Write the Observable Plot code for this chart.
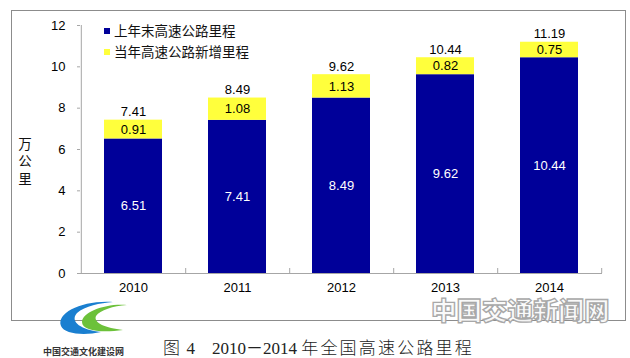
<!DOCTYPE html>
<html>
<head>
<meta charset="utf-8">
<script src="https://cdn.jsdelivr.net/npm/d3@7"></script>
<script src="https://cdn.jsdelivr.net/npm/@observablehq/plot@0.6"></script>
<style>
  html, body { margin: 0; padding: 0; background: #fff; }
  #wrap { position: relative; width: 630px; height: 358px; overflow: hidden; background: #fff; }
  #chart { position: absolute; left: 0; top: 0; }
  #box { position: absolute; left: 11px; top: 10px; width: 613px; height: 309px; border: 1px solid #8c8c8c; pointer-events: none; }
  .leg { position: absolute; left: 104px; font-family: "Noto Sans CJK SC", sans-serif; font-size: 13.5px; color: #111; line-height: 16px; white-space: nowrap; }
  .leg span.sw { display: inline-block; width: 6px; height: 6px; margin-right: 4px; vertical-align: 2px; }
  #ytitle { position: absolute; left: 17px; top: 137px; font-family: "Noto Sans CJK SC", sans-serif; font-size: 13.5px; line-height: 16px; color: #111; writing-mode: vertical-rl; text-orientation: upright; letter-spacing: 4px; white-space: nowrap; }
  #caption { position: absolute; left: 163px; top: 337px; font-family: "Liberation Serif", "Noto Sans CJK SC", serif; font-size: 17px; line-height: 20px; color: #222; white-space: nowrap; }
  #caption .cjk { font-family: "Noto Sans CJK SC", sans-serif; font-weight: 300; letter-spacing: 2.2px; }
  #wm { position: absolute; left: 431px; top: 296px; font-family: "Noto Sans CJK SC", sans-serif; font-weight: 900; font-size: 25.5px; line-height: 26px; color: rgba(250,250,250,0.95); -webkit-text-stroke: 1.3px #a8a8a8; white-space: nowrap; }
  #logo { position: absolute; left: 0; top: 0; }
  #logotext { position: absolute; left: 43px; top: 346px; font-family: "Noto Sans CJK SC", serif; font-weight: 700; font-size: 9px; line-height: 11px; color: #333; white-space: nowrap; }
</style>
</head>
<body>
<div id="wrap">
  <div id="chart"></div>
  <div id="box"></div>
  <div class="leg" id="leg0" style="top:22px"></div>
  <div class="leg" id="leg1" style="top:43px"></div>
  <div id="ytitle"></div>
  <div id="wm">中国交通新闻网</div>
  <svg id="logo" width="140" height="358">
    <path d="M113 302 C82 300 56 313 61 326 C64 334 84 336 101 332 C82 330 69 322 77 313 C85 306 100 303 113 302 Z" fill="#1a7fd0"/>
    <path d="M127 305 C106 303 82 312 82 322 C82 331 102 333 123 330 C106 328 93 323 96 316 C100 310 113 306 127 305 Z" fill="#6cc13a"/>
  </svg>
  <div id="logotext">中国交通文化建设网</div>
  <div id="caption"><span class="cjk">图</span> 4<span style="display:inline-block;width:17px"></span>2010－2014 <span class="cjk">年全国高速公路里程</span></div>
</div>
<script>
const years = ["2010", "2011", "2012", "2013", "2014"];
const prevEnd = [6.51, 7.41, 8.49, 9.62, 10.44];
const added = [0.91, 1.08, 1.13, 0.82, 0.75];
const totals = [7.41, 8.49, 9.62, 10.44, 11.19];
const seriesNames = ["上年末高速公路里程", "当年高速公路新增里程"];
const seriesColors = ["#000099", "#ffff3c"];
const yTicks = [0, 2, 4, 6, 8, 10, 12];
const yTitle = "万公里";

const rows = years.flatMap((yr, i) => [
  {year: yr, series: seriesNames[0], value: prevEnd[i]},
  {year: yr, series: seriesNames[1], value: added[i]}
]);

const W = 630, H = 320, mL = 80, mR = 28, mT = 25, mB = 47;
const halfStep = (W - mL - mR) / years.length / 2;
const innerH = H - mT - mB;
const axisColor = "#a6a6a6";

const chart = Plot.plot({
  width: W, height: H,
  marginLeft: mL, marginRight: mR, marginTop: mT, marginBottom: mB,
  style: {fontFamily: "'Liberation Sans', Arial, sans-serif", fontSize: "13px", color: "#000", background: "transparent", overflow: "visible"},
  x: {domain: years, paddingInner: 0.44, paddingOuter: 0.22, label: null},
  y: {domain: [0, 12], label: null},
  color: {domain: seriesNames, range: seriesColors},
  marks: [
    Plot.barY(rows, {x: "year", y: "value", fill: "series", order: seriesNames}),
    Plot.ruleX([years[0]], {x: d => d, dx: -halfStep, stroke: axisColor}),
    Plot.ruleY([0], {stroke: axisColor}),
    Plot.ruleX(years, {x: d => d, dx: halfStep, insetTop: innerH - 5, stroke: axisColor}),
    Plot.axisY({ticks: yTicks, tickSize: 3, tickPadding: 12, stroke: axisColor, fill: "#000", fontSize: 13}),
    Plot.axisX({tickSize: 0, tickPadding: 9, fill: "#000", fontSize: 13}),
    Plot.text(prevEnd, {x: years, y: d => d / 2, text: d => d.toFixed(2), fill: "white", fontSize: 13}),
    Plot.text(added, {x: years, y: (d, i) => prevEnd[i] + d / 2, text: d => d.toFixed(2), fill: "black", fontSize: 13}),
    Plot.text(totals, {x: years, y: (d, i) => prevEnd[i] + added[i], text: d => d.toFixed(2), dy: -8, fill: "black", fontSize: 13})
  ]
});
document.getElementById("chart").appendChild(chart);

seriesNames.forEach((name, i) => {
  const el = document.getElementById("leg" + i);
  const sw = document.createElement("span");
  sw.className = "sw";
  sw.style.background = seriesColors[i];
  el.appendChild(sw);
  el.appendChild(document.createTextNode(name));
});
document.getElementById("ytitle").textContent = yTitle;
</script>
</body>
</html>
